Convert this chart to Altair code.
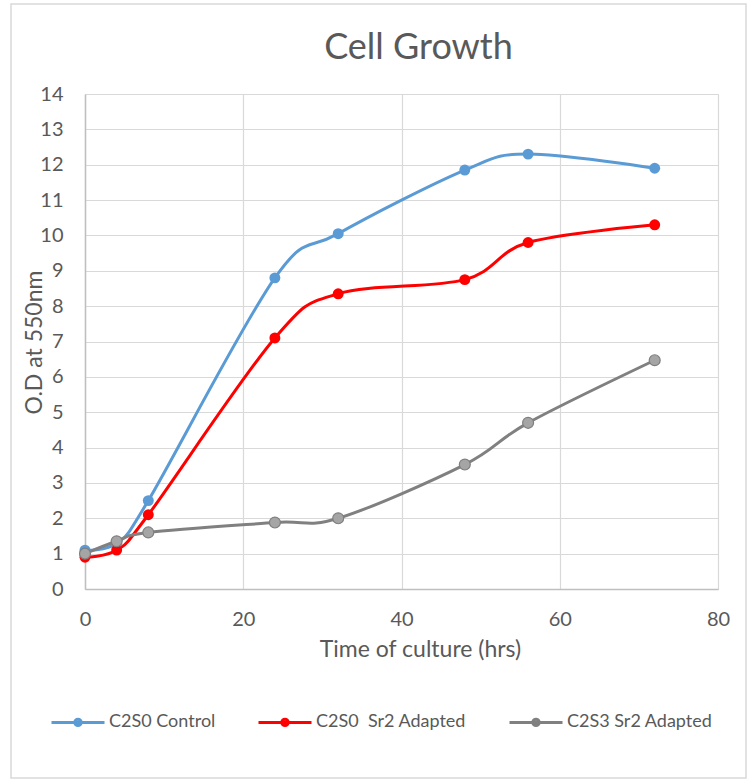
import altair as alt
import pandas as pd

# Sampling times (hours) and optical density readings per culture
hours = [0, 4, 8, 24, 32, 48, 56, 72]
series_names = ["C2S0 Control", "C2S0\u00a0 Sr2 Adapted", "C2S3 Sr2 Adapted"]
od_control = [1.1, 1.3, 2.5, 8.8, 10.05, 11.85, 12.3, 11.9]
od_s0_sr2 = [0.9, 1.1, 2.1, 7.1, 8.35, 8.75, 9.8, 10.3]
od_s3_sr2 = [1.0, 1.35, 1.6, 1.88, 2.0, 3.52, 4.7, 6.47]

line_colors = ["#5b9bd5", "#ff0000", "#808080"]
point_fill = ["#5b9bd5", "#ff0000", "#a5a5a5"]

rows = []
for name, vals in zip(series_names, [od_control, od_s0_sr2, od_s3_sr2]):
    for h, v in zip(hours, vals):
        rows.append({"series": name, "hours": h, "od": v})
df = pd.DataFrame(rows)

FONT = "Lato"
TXT = "#595959"

x_enc = alt.X(
    "hours:Q",
    scale=alt.Scale(domain=[0, 80], nice=False),
    axis=alt.Axis(
        values=[0, 20, 40, 60, 80],
        title="Time of culture (hrs)",
        titleX=335, titleY=60, titleBaseline="middle",
        titleFontSize=23, titleFontWeight="normal", titleColor=TXT, titleFont=FONT,
        labelFontSize=20, labelColor=TXT, labelFont=FONT, labelPadding=20,
        labelOverlap=False, labelFlush=False,
        ticks=False, domainColor="#bfbfbf", domainWidth=1.5,
        gridColor="#d9d9d9", gridWidth=1.2,
    ),
)
y_enc = alt.Y(
    "od:Q",
    scale=alt.Scale(domain=[0, 14], nice=False),
    axis=alt.Axis(
        values=list(range(0, 15)),
        title="O.D at 550nm",
        titleX=-51, titleY=248, titleAngle=-90, titleBaseline="middle", titleAlign="center",
        titleFontSize=23, titleFontWeight="normal", titleColor=TXT, titleFont=FONT,
        labelFontSize=20, labelColor=TXT, labelFont=FONT, labelPadding=22,
        labelOverlap=False, labelFlush=False,
        ticks=False, domainColor="#bfbfbf", domainWidth=1.5,
        gridColor="#d9d9d9", gridWidth=1.2,
    ),
)

legend_symbol = (
    "M-1,0L1,0"
    "M0.12,0A0.12,0.12,0,1,1,-0.12,0A0.12,0.12,0,1,1,0.12,0Z"
)

color_enc = alt.Color(
    "series:N",
    scale=alt.Scale(domain=series_names, range=line_colors),
    sort=series_names,
    legend=alt.Legend(
        orient="none", direction="horizontal", legendX=-35, legendY=600,
        title=None, symbolType=legend_symbol, symbolSize=2809,
        symbolStrokeWidth=3, labelFontSize=18, labelColor=TXT, labelFont=FONT,
        columnPadding=36, labelOffset=3, labelLimit=300,
    ),
)

base = alt.Chart(df)

lines = base.mark_line(interpolate="cardinal", strokeWidth=3).encode(
    x=x_enc, y=y_enc, color=color_enc, detail="series:N"
)

points = base.mark_point(filled=True, size=120, opacity=1).encode(
    x=x_enc,
    y=y_enc,
    fill=alt.Fill("series:N", scale=alt.Scale(domain=series_names, range=point_fill), legend=None),
    stroke=alt.condition(
        alt.datum.series == "C2S3 Sr2 Adapted", alt.value("#7f7f7f"), alt.value("transparent")
    ),
    strokeWidth=alt.value(1.2),
)

frame = alt.Chart(alt.Data(values=[{"k": 1}])).mark_rect(
    fill="transparent", stroke="#d9d9d9", strokeWidth=1.5, clip=False
).encode(
    x=alt.value(-74), x2=alt.value(661), y=alt.value(-90), y2=alt.value(684)
)

chart = (
    alt.layer(frame, lines, points)
    .resolve_scale(fill="independent")
    .properties(
        width=633,
        height=495,
        autosize=alt.AutoSizeParams(type="none"),
        padding={"left": 85, "top": 94, "right": 38, "bottom": 191},
        title=alt.Title(
            "Cell Growth", fontSize=36, font=FONT, fontWeight="normal",
            color=TXT, anchor="middle", dx=17, offset=-64,
        ),
    )
    .configure_view(stroke=None)
    .configure(background="white")
)

chart.save("out.html", embed_options={"renderer": "svg", "actions": False})
